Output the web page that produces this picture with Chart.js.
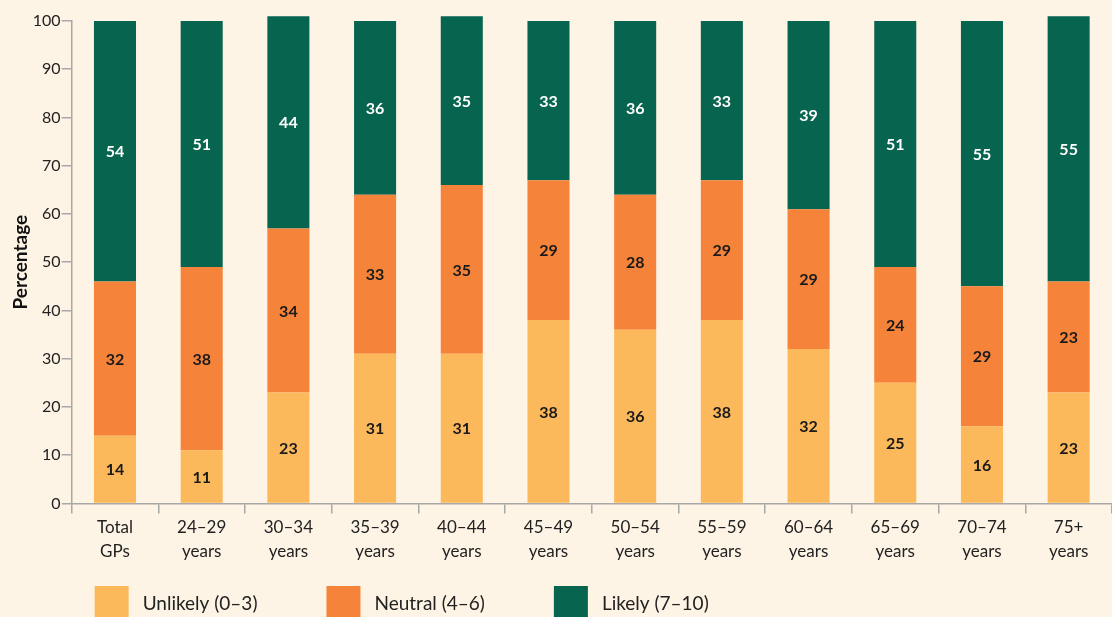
<!DOCTYPE html>
<html>
<head>
<meta charset="utf-8">
<script src="https://cdn.jsdelivr.net/npm/chart.js@4.4.1/dist/chart.umd.min.js"></script>
<style>
    html, body { margin: 0; padding: 0; background: #fdf4e5; overflow: hidden; }
    #wrap { width: 1112px; height: 617px; }
</style>
</head>
<body>
<div id="wrap"><canvas id="grafico"></canvas></div>
<script>
const categorias = [
    ['Total', 'GPs'], ['24–29', 'years'], ['30–34', 'years'], ['35–39', 'years'],
    ['40–44', 'years'], ['45–49', 'years'], ['50–54', 'years'], ['55–59', 'years'],
    ['60–64', 'years'], ['65–69', 'years'], ['70–74', 'years'], ['75+', 'years']
];
const unlikely = [14, 11, 23, 31, 31, 38, 36, 38, 32, 25, 16, 23];
const neutral  = [32, 38, 34, 33, 35, 29, 28, 29, 29, 24, 29, 23];
const likely   = [54, 51, 44, 36, 35, 33, 36, 33, 39, 51, 55, 55];
const nombresSeries = ['Unlikely (0–3)', 'Neutral (4–6)', 'Likely (7–10)'];
const colores = ['#fcb95b', '#f5843a', '#07654f'];
const colorEtiqueta = ['#1a1a1a', '#1a1a1a', '#ffffff'];
const ticksY = [0, 10, 20, 30, 40, 50, 60, 70, 80, 90, 100];

Chart.defaults.font.family = 'Lato';
Chart.defaults.color = '#222';

// numeros dentro de cada barra
const etiquetas = {
    id: 'etiquetas',
    afterDatasetsDraw(chart) {
        const ctx = chart.ctx;
        ctx.save();
        ctx.font = 'bold 16px Lato';
        ctx.textAlign = 'center';
        ctx.textBaseline = 'middle';
        chart.data.datasets.forEach((ds, i) => {
            chart.getDatasetMeta(i).data.forEach((bar, j) => {
                const p = bar.getCenterPoint();
                ctx.fillStyle = colorEtiqueta[i];
                ctx.fillText(ds.data[j], p.x, p.y + 1);
            });
        });
        ctx.restore();
    }
};

// leyenda abajo con cuadrados grandes
const leyenda = {
    id: 'leyenda',
    afterDraw(chart) {
        const ctx = chart.ctx;
        ctx.save();
        ctx.font = '19px Lato';
        ctx.textBaseline = 'middle';
        let x = chart.chartArea.left + 23;
        const y = chart.height - 31;
        chart.data.datasets.forEach(ds => {
            ctx.fillStyle = ds.backgroundColor;
            ctx.fillRect(x, y, 34, 34);
            ctx.fillStyle = '#222';
            ctx.fillText(ds.label, x + 48, y + 18);
            x += 48 + ctx.measureText(ds.label).width + 69;
        });
        ctx.restore();
    }
};

const ctx = document.getElementById('grafico').getContext('2d');
new Chart(ctx, {
    type: 'bar',
    data: {
        labels: categorias,
        datasets: [unlikely, neutral, likely].map((valores, i) => ({
            label: nombresSeries[i],
            data: valores,
            backgroundColor: colores[i],
            barPercentage: 0.485,
            categoryPercentage: 1,
            clip: false
        }))
    },
    options: {
        responsive: true,
        maintainAspectRatio: false,
        animation: false,
        layout: { padding: { top: 21, right: 0, bottom: 52, left: 3 } },
        plugins: {
            legend: { display: false },
            tooltip: { enabled: false }
        },
        scales: {
            x: {
                stacked: true,
                grid: { drawOnChartArea: false, drawTicks: true, tickLength: 10, color: '#a8a8a8', lineWidth: 1.5 },
                border: { color: '#a8a8a8', width: 1.5 },
                ticks: { font: { size: 17, lineHeight: 1.4 }, color: '#222', padding: 2, maxRotation: 0 }
            },
            y: {
                stacked: true,
                min: 0,
                max: 100,
                afterBuildTicks: (scale) => { scale.ticks = ticksY.map(v => ({ value: v })); },
                grid: { drawOnChartArea: false, drawTicks: true, tickLength: 10, color: '#a8a8a8', lineWidth: 1.5 },
                border: { color: '#a8a8a8', width: 1.5 },
                ticks: { font: { size: 16 }, color: '#222', padding: 1 },
                title: { display: true, text: 'Percentage', font: { size: 19, weight: 'bold' }, color: '#111', padding: { top: 6, bottom: 0 } }
            }
        }
    },
    plugins: [etiquetas, leyenda]
});
</script>
</body>
</html>
